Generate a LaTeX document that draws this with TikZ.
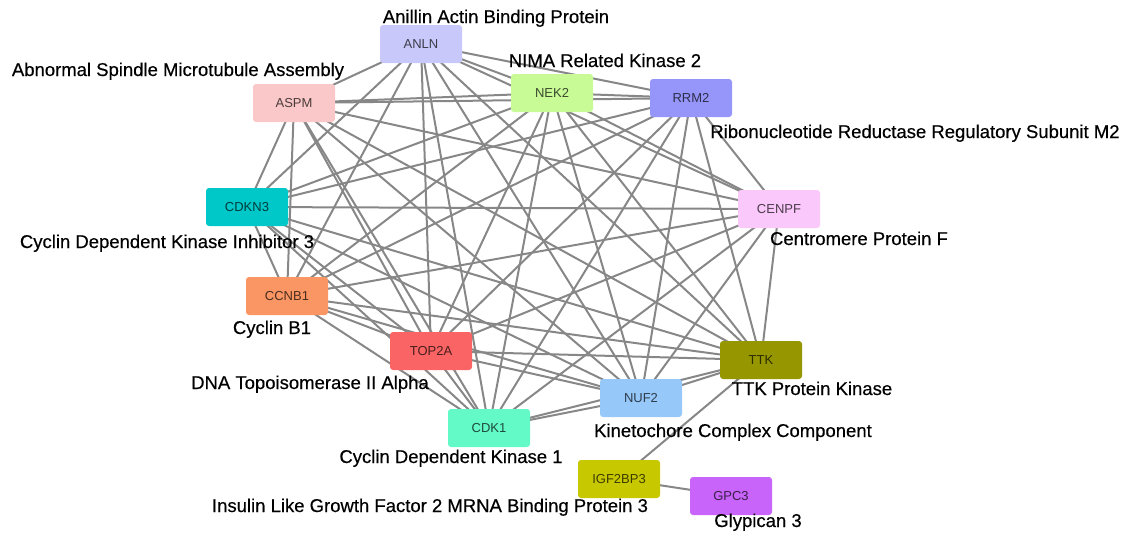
\documentclass[tikz,border=0pt]{standalone}
\usepackage{fontspec}
\setmainfont{Liberation Sans}
\newfontfamily\descfont[FakeBold=0.4]{Liberation Sans}
\usetikzlibrary{backgrounds}

% node fill colours
\definecolor{cANLN}{RGB}{200,200,250}
\definecolor{cASPM}{RGB}{250,200,200}
\definecolor{cNEK}{RGB}{200,250,150}
\definecolor{cRRM}{RGB}{150,150,250}
\definecolor{cCDKN}{RGB}{0,200,200}
\definecolor{cCENPF}{RGB}{250,200,250}
\definecolor{cCCNB}{RGB}{250,150,100}
\definecolor{cTOP}{RGB}{250,100,100}
\definecolor{cTTK}{RGB}{150,150,0}
\definecolor{cNUF}{RGB}{150,200,250}
\definecolor{cCDK}{RGB}{100,250,200}
\definecolor{cIGF}{RGB}{200,200,0}
\definecolor{cGPC}{RGB}{200,100,250}
\definecolor{edgegray}{RGB}{135,135,135}

\tikzset{
  gene/.style={draw=none, fill=#1, rounded corners=3pt, minimum width=82pt,
    minimum height=38pt, inner sep=0pt, text=#1!30!black,
    font=\fontsize{13}{15}\selectfont},
  desc/.style={anchor=base, inner sep=0pt, text=black,
    font=\descfont\fontsize{18.5}{22}\selectfont},
  link/.style={draw=edgegray, line width=2pt}
}

\begin{document}
\begin{tikzpicture}[x=1pt, y=-1pt]
\useasboundingbox (0,0) rectangle (1128,536);

% gene boxes
\node[gene=cANLN]  (ANLN)    at (421,44)  {ANLN};
\node[gene=cASPM]  (ASPM)    at (294,103) {ASPM};
\node[gene=cNEK]   (NEK2)    at (552,93)  {NEK2};
\node[gene=cRRM]   (RRM2)    at (691,98)  {RRM2};
\node[gene=cCDKN]  (CDKN3)   at (247,207) {CDKN3};
\node[gene=cCENPF] (CENPF)   at (779,209) {CENPF};
\node[gene=cCCNB]  (CCNB1)   at (287,296) {CCNB1};
\node[gene=cTOP]   (TOP2A)   at (431,351) {TOP2A};
\node[gene=cTTK]   (TTK)     at (761,360) {TTK};
\node[gene=cNUF]   (NUF2)    at (641,398) {NUF2};
\node[gene=cCDK]   (CDK1)    at (489,428) {CDK1};
\node[gene=cIGF]   (IGF2BP3) at (619,479) {IGF2BP3};
\node[gene=cGPC]   (GPC3)    at (731,496) {GPC3};

% full names
\node[desc] (lANLN)  at (496,23)  {Anillin Actin Binding Protein};
\node[desc] (lASPM)  at (178,76)  {Abnormal Spindle Microtubule Assembly};
\node[desc] (lNEK2)  at (605,67)  {NIMA Related Kinase 2};
\node[desc] (lRRM2)  at (915,138) {Ribonucleotide Reductase Regulatory Subunit M2};
\node[desc] (lCDKN3) at (167,248) {Cyclin Dependent Kinase Inhibitor 3};
\node[desc] (lCENPF) at (859,245) {Centromere Protein F};
\node[desc] (lCCNB1) at (272,334) {Cyclin B1};
\node[desc] (lTOP2A) at (310,389) {DNA Topoisomerase II Alpha};
\node[desc] (lTTK)   at (812,395) {TTK Protein Kinase};
\node[desc] (lNUF2)  at (733,437) {Kinetochore Complex Component};
\node[desc] (lCDK1)  at (451,463) {Cyclin Dependent Kinase 1};
\node[desc] (lIGF)   at (430,512) {Insulin Like Growth Factor 2 MRNA Binding Protein 3};
\node[desc] (lGPC3)  at (758,527) {Glypican 3};

% interactions: every pair in the mitotic cluster, plus the two outliers
\begin{scope}[on background layer]
  \foreach \a [count=\i] in {ANLN,ASPM,NEK2,RRM2,CDKN3,CENPF,CCNB1,TOP2A,TTK,NUF2,CDK1} {
    \foreach \b [count=\j] in {ANLN,ASPM,NEK2,RRM2,CDKN3,CENPF,CCNB1,TOP2A,TTK,NUF2,CDK1} {
      \ifnum\j>\i
        \draw[link] (\a.center) -- (\b.center);
      \fi
    }
  }
  \draw[link] (IGF2BP3.center) -- (TTK.center);
  \draw[link] (IGF2BP3.center) -- (GPC3.center);
\end{scope}
\end{tikzpicture}
\end{document}
